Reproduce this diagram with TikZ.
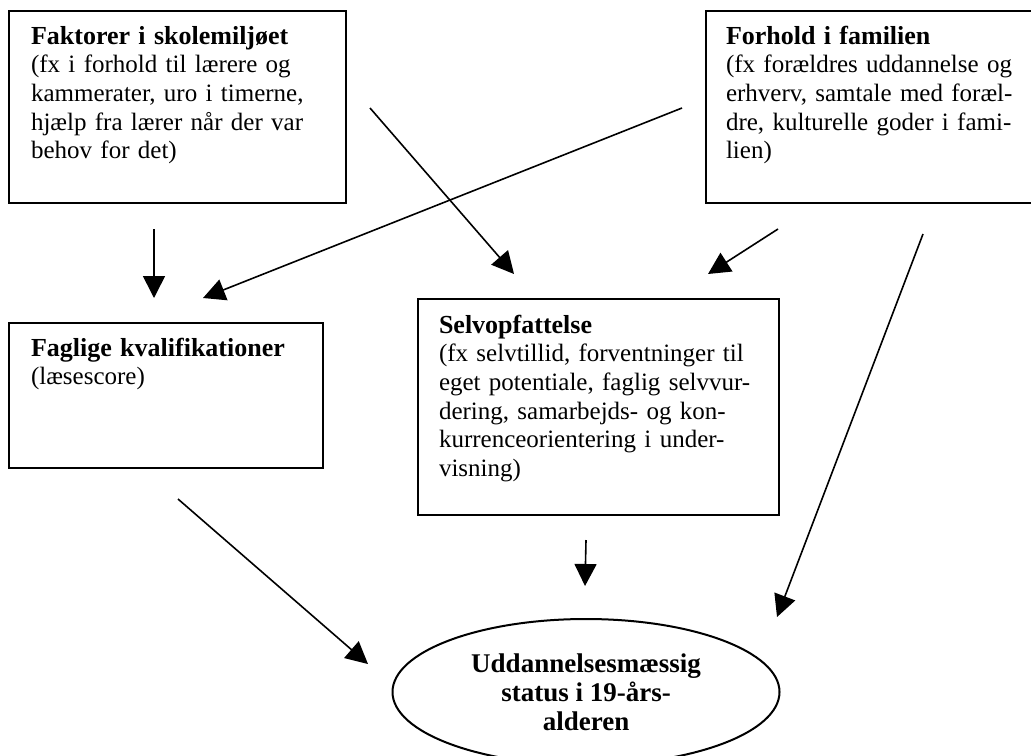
\documentclass[tikz,border=0pt]{standalone}
\usepackage{fontspec}
\setmainfont{Liberation Serif}
\usetikzlibrary{shapes.geometric,arrows.meta,calc}

\newcommand{\titel}[1]{{\fontsize{13}{14.35}\selectfont\bfseries #1}}

\begin{document}
\begin{tikzpicture}[x=0.5pt,y=-0.5pt,
	kasse/.style={draw,line width=1pt,anchor=north west,align=left,
		font=\fontsize{12.5}{14.35}\selectfont,inner ysep=7pt,text height=9.5pt},
	pil/.style={-{Triangle[length=11pt,width=11pt]},line width=0.8pt}]
\useasboundingbox (0,0) rectangle (1031,755);

% kasserne
\node[kasse,inner xsep=11pt,text width=146.5pt,text depth=72.5pt] (skole) at (8,10)
	{\titel{Faktorer i skolemiljøet}\\(fx i forhold til lærere og\\kammerater, uro i timerne,\\hjælp fra lærer når der var\\behov for det)};
\node[kasse,inner xsep=10pt,text width=147.5pt,text depth=72.5pt] (familie) at (705,10)
	{\titel{Forhold i familien}\\(fx forældres uddannelse og\\erhverv, samtale med foræl-\\dre, kulturelle goder i fami-\\lien)};
\node[kasse,inner xsep=11pt,text width=135pt,text depth=49pt] (faglig) at (8,322)
	{\titel{Faglige kvalifikationer}\\(læsescore)};
\node[kasse,inner xsep=10.5pt,text width=159.5pt,text height=10pt,text depth=84pt] (selv) at (417,298)
	{\titel{Selvopfattelse}\\(fx selvtillid, forventninger til\\eget potentiale, faglig selvvur-\\dering, samarbejds- og kon-\\kurrenceorientering i under-\\visning)};
\node[draw,ellipse,line width=1pt,minimum width=193.5pt,minimum height=73pt,inner sep=0pt,align=center,
	font=\fontsize{13.5}{14.5}\selectfont\bfseries] (status) at (586,692)
	{Uddannelsesmæssig\\status i 19-års-\\alderen};

% pilene
\draw[pil] ($(skole.south)+(-23.5,25)$) -- ($(faglig.north)+(-12,-24)$);
\draw[pil] ($(familie.west)+(-23,1)$) -- ($(faglig.north)+(37,-24)$);
\draw[pil] ($(skole.east)+(23,1)$) -- ($(selv.north)+(-84.5,-24)$);
\draw[pil] ($(familie.south west)+(73,25)$) -- ($(selv.north)+(109.5,-24)$);
\draw[pil] ($(familie.south)+(49.5,30)$) -- ($(status.north)+(191,-1)$);
\draw[pil] ($(faglig.south)+(12,30)$) -- ($(status.north)+(-218,46)$);
\draw[pil] ($(selv.south)+(-12.5,24)$) -- ($(status.north)+(-1,-32)$);

\end{tikzpicture}
\end{document}
